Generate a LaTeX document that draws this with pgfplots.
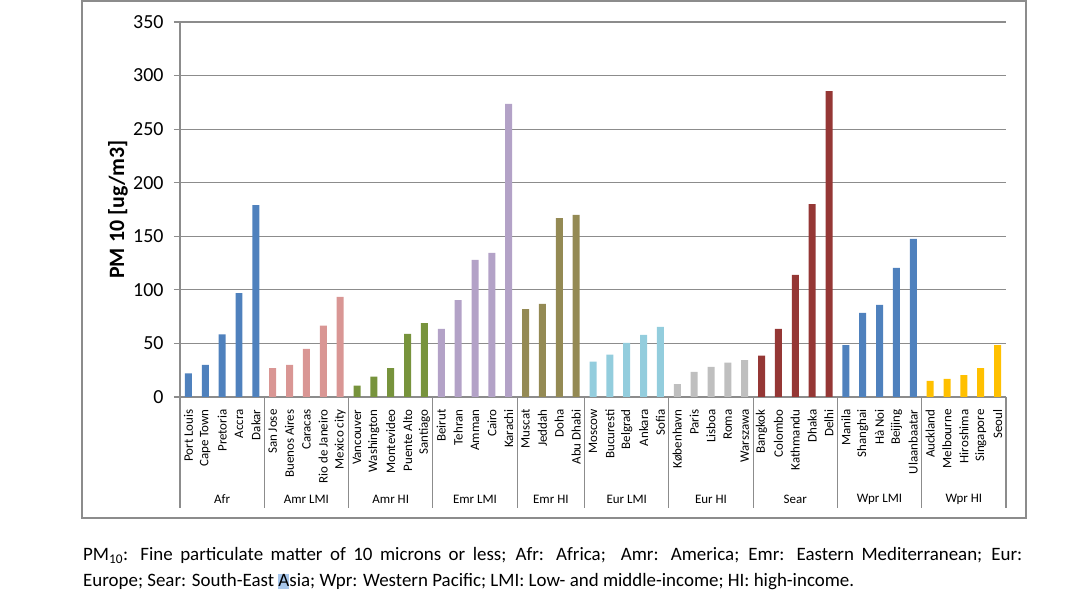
\documentclass[border=0pt]{standalone}
\usepackage{fontspec}
\setmainfont{Carlito}
\usepackage{pgfplots}
\pgfplotsset{compat=1.18}

\definecolor{cAfr}{HTML}{4F81BD}
\definecolor{cAmrL}{HTML}{D99694}
\definecolor{cAmrH}{HTML}{77933C}
\definecolor{cEmrL}{HTML}{B3A2C7}
\definecolor{cEmrH}{HTML}{948A54}
\definecolor{cEurL}{HTML}{93CDDD}
\definecolor{cEurH}{HTML}{BFBFBF}
\definecolor{cSear}{HTML}{953735}
\definecolor{cWprL}{HTML}{4F81BD}
\definecolor{cWprH}{HTML}{FFC000}
\definecolor{gridgray}{HTML}{8C8C8C}
\definecolor{hl}{HTML}{A9C8EC}

\begin{document}
\begin{tikzpicture}
\useasboundingbox (0,0) rectangle (1069bp,615bp);
\draw[line width=1.2bp, color=black!45] (82bp,97bp) rectangle (1026bp,614bp);
\begin{axis}[
  at={(180bp,218bp)}, anchor=south west,
  scale only axis, width=826bp, height=375bp,
  xmin=-0.5, xmax=48.5, ymin=0, ymax=350,
  ytick={0,50,...,350},
  xtick={0,...,48},
  xticklabels={Port Louis,Cape Town,Pretoria,Accra,Dakar,
    San Jose,Buenos Aires,Caracas,Rio de Janeiro,Mexico city,
    Vancouver,Washington,Montevideo,Puente Alto,Santiago,
    Beirut,Tehran,Amman,Cairo,Karachi,
    Muscat,Jeddah,Doha,Abu Dhabi,
    Moscow,Bucuresti,Belgrad,Ankara,Sofia,
    København,Paris,Lisboa,Roma,Warszawa,
    Bangkok,Colombo,Kathmandu,Dhaka,Delhi,
    Manila,Shanghai,Hà Noi,Beijing,Ulaanbaatar,
    Auckland,Melbourne,Hiroshima,Singapore,Seoul},
  axis x line*=bottom, axis y line*=left,
  axis line style={draw=gridgray, line width=1.2bp},
  ymajorgrids,
  major grid style={draw=gridgray, line width=1.2bp},
  tick align=outside, major tick length=6bp,
  xtick style={draw=none},
  ytick style={draw=gridgray, line width=1.2bp},
  /pgf/number format/assume math mode=true,
  yticklabel style={font=\fontsize{20}{22}\selectfont, xshift=-7bp},
  xticklabel style={yshift=-3bp, rotate=90, anchor=east, font=\fontsize{13}{15}\selectfont},
  ylabel={\textbf{PM 10 [ug/m3]}},
  ylabel style={at={(axis description cs:-0.075,0.5)}, anchor=center, font=\fontsize{22}{24}\selectfont},
  ybar, bar width=0.415,
  clip=false,
]
\addplot[fill=cAfr, draw=none, bar shift=0pt] coordinates {(0,22) (1,30) (2,58.5) (3,97) (4,179)};
\addplot[fill=cAmrL, draw=none, bar shift=0pt] coordinates {(5,27) (6,30) (7,45) (8,66.5) (9,93.5)};
\addplot[fill=cAmrH, draw=none, bar shift=0pt] coordinates {(10,10.5) (11,19) (12,27) (13,59) (14,69)};
\addplot[fill=cEmrL, draw=none, bar shift=0pt] coordinates {(15,63.5) (16,90.5) (17,128) (18,134.5) (19,273.5)};
\addplot[fill=cEmrH, draw=none, bar shift=0pt] coordinates {(20,82) (21,87) (22,167) (23,170)};
\addplot[fill=cEurL, draw=none, bar shift=0pt] coordinates {(24,33) (25,39.5) (26,50.5) (27,58) (28,65.5)};
\addplot[fill=cEurH, draw=none, bar shift=0pt] coordinates {(29,12) (30,23.5) (31,28) (32,32) (33,34.5)};
\addplot[fill=cSear, draw=none, bar shift=0pt] coordinates {(34,38.5) (35,63.5) (36,114) (37,180) (38,285.5)};
\addplot[fill=cWprL, draw=none, bar shift=0pt] coordinates {(39,48.5) (40,78.5) (41,86) (42,120.5) (43,147.5)};
\addplot[fill=cWprH, draw=none, bar shift=0pt] coordinates {(44,15) (45,17) (46,20.5) (47,27) (48,48.5)};
\pgfplotsinvokeforeach{-0.5,4.5,9.5,14.5,19.5,23.5,28.5,33.5,38.5,43.5,48.5}{
  \draw[gridgray, line width=1.2bp] (axis cs:#1,0) -- ++(0pt,-111bp);
}
\begin{scope}[every node/.style={font=\fontsize{13}{15}\selectfont, anchor=center}]
\node at ([yshift=-102bp]axis cs:2,0) {Afr};
\node at ([yshift=-102bp]axis cs:7,0) {Amr LMI};
\node at ([yshift=-102bp]axis cs:12,0) {Amr HI};
\node at ([yshift=-102bp]axis cs:17,0) {Emr LMI};
\node at ([yshift=-102bp]axis cs:21.5,0) {Emr HI};
\node at ([yshift=-102bp]axis cs:26,0) {Eur LMI};
\node at ([yshift=-102bp]axis cs:31,0) {Eur HI};
\node at ([yshift=-102bp]axis cs:36,0) {Sear};
\node at ([yshift=-102bp]axis cs:41,0) {Wpr LMI};
\node at ([yshift=-102bp]axis cs:46,0) {Wpr HI};
\end{scope}
\end{axis}
\node[anchor=base west, font=\fontsize{19}{21}\selectfont, inner sep=0pt] at (83bp,54bp)
  {\makebox[939bp][s]{PM\textsubscript{10}: Fine particulate matter of 10 microns or less; Afr: Africa;\ \ Amr: America; Emr: Eastern Mediterranean; Eur:}};
\node[anchor=base west, font=\fontsize{19}{21}\selectfont, inner sep=0pt] at (83bp,29bp)
  {Europe; Sear: South-East {\setlength{\fboxsep}{0pt}\colorbox{hl}{A\vphantom{y}}}sia; Wpr: Western Pacific; LMI: Low- and middle-income; HI: high-income.};
\end{tikzpicture}
\end{document}
